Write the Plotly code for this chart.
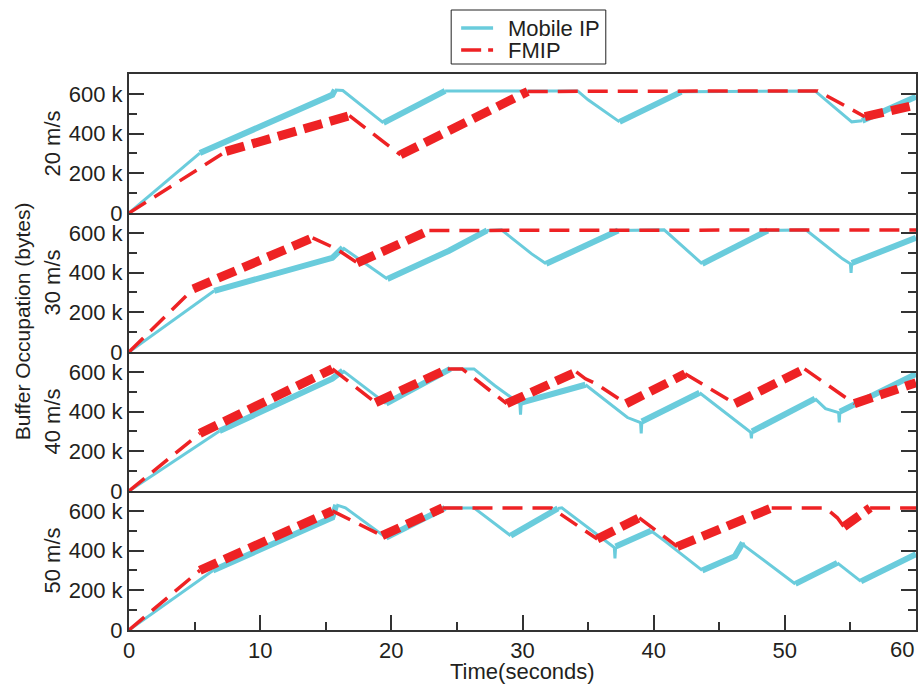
import plotly.graph_objects as go
from plotly.subplots import make_subplots

# ---------------- data (time in s, buffer in kB) ----------------
speeds = ["20 m/s", "30 m/s", "40 m/s", "50 m/s"]
legend_names = ["Mobile IP", "FMIP"]

# 20 m/s
mip20_t = [0, 5.4, 15.5, 15.7, 16.3, 19.4, 24.1, 34.2, 35.0, 37.4, 42.1, 52.3, 55.1, 55.9, 60]
mip20_v = [0, 302, 595, 620, 617, 454, 615, 615, 570, 459, 610, 615, 459, 465, 585]
mip20_n = [0, 1, 1, 0, 0, 1, 0, 0, 0, 1, 0, 0, 0, 1]
fm20_t = [0, 7.4, 16.8, 20.7, 30.4, 52.5, 56.1, 60]
fm20_v = [0, 310, 490, 293, 612, 615, 485, 545]
fm20_n = [0, 1, 0, 1, 0, 0, 1]

# 30 m/s
mip30_t = [0, 6.5, 15.5, 16.3, 19.7, 24.4, 27.3, 28.4, 30.7, 31.8, 37.3, 40.8, 43.7, 48.7, 51.6, 54.4, 55.0, 55.05, 55.1, 60]
mip30_v = [0, 308, 474, 525, 368, 510, 612, 615, 494, 444, 612, 615, 444, 612, 615, 469, 444, 398, 448, 575]
mip30_n = [0, 1, 1, 0, 1, 1, 0, 0, 0, 1, 0, 0, 1, 0, 0, 0, 0, 0, 1]
fm30_t = [0, 4.9, 14.0, 15.8, 17.4, 22.9, 60]
fm30_v = [0, 318, 575, 520, 449, 612, 615]
fm30_n = [0, 1, 0, 0, 1, 0]

# 40 m/s
mip40_t = [0, 6.9, 15.5, 16.3, 19.6, 24.5, 26.3, 27.9, 29.8, 29.85, 29.9, 34.8, 38.0, 39.0, 39.05, 39.1,
           43.5, 47.4, 47.45, 47.5, 52.3, 53.1, 54.1, 54.15, 54.2, 60]
mip40_v = [0, 302, 566, 606, 440, 615, 615, 530, 440, 385, 445, 535, 370, 345, 290, 350,
           495, 295, 265, 300, 465, 415, 395, 345, 400, 590]
mip40_n = [0, 1, 1, 0, 1, 0, 0, 0, 0, 0, 1, 0, 0, 0, 0, 1, 0, 0, 0, 1, 0, 0, 0, 0, 1]
fm40_t = [0, 5.4, 15.5, 18.8, 24.3, 25.4, 28.8, 34.1, 34.8, 35.6, 37.9, 42.4, 46.2, 51.5, 55.3, 60]
fm40_v = [0, 290, 615, 445, 615, 615, 440, 600, 565, 540, 440, 590, 440, 615, 440, 545]
fm40_n = [0, 1, 0, 1, 0, 0, 1, 0, 0, 0, 1, 0, 1, 0, 1]

# 50 m/s
mip50_t = [0, 6.4, 15.5, 15.8, 16.5, 19.6, 24.1, 26.3, 29.1, 32.7, 33.0, 37.0, 37.05, 37.1, 39.8, 40.8,
           43.7, 46.2, 46.8, 46.9, 50.8, 54.0, 55.8, 60]
mip50_v = [0, 300, 566, 630, 615, 465, 615, 615, 475, 612, 615, 415, 360, 420, 500, 450,
           300, 372, 440, 425, 232, 338, 245, 382]
mip50_n = [0, 1, 1, 0, 0, 1, 0, 0, 1, 0, 0, 0, 0, 1, 0, 0, 1, 1, 0, 0, 1, 0, 1]
fm50_t = [0, 5.4, 15.5, 19.3, 23.9, 32.2, 35.7, 38.9, 41.8, 49.0, 53.1, 54.0, 54.5, 56.5, 60]
fm50_v = [0, 300, 600, 475, 615, 615, 458, 565, 420, 615, 615, 565, 520, 615, 615]
fm50_n = [0, 1, 0, 1, 0, 0, 1, 0, 1, 0, 0, 0, 1, 0]

mip_series = [(mip20_t, mip20_v, mip20_n), (mip30_t, mip30_v, mip30_n),
              (mip40_t, mip40_v, mip40_n), (mip50_t, mip50_v, mip50_n)]
fm_series = [(fm20_t, fm20_v, fm20_n), (fm30_t, fm30_v, fm30_n),
             (fm40_t, fm40_v, fm40_n), (fm50_t, fm50_v, fm50_n)]

x_ticks = [0, 10, 20, 30, 40, 50, 60]
x_minor = [5, 15, 25, 35, 45, 55]
y_ticks = [0, 200000, 400000, 600000]
y_ticktext = ["0", "200 k", "400 k", "600 k"]
y_minor = [100000, 300000, 500000]

CYAN = "#6accdc"
RED = "#ee2224"
AX = "#333333"
FONT = "Liberation Sans, Arial, sans-serif"
TXT = "#231f20"

# plot area in pixels (for paper-coordinate conversion of annotations)
PL, PR, PT, PB = 129, 918, 74, 630


def px_x(p):
    return (p - PL) / (PR - PL)


def px_y(p):
    return (PB - p) / (PB - PT)


def pick(t, v, flags, want):
    xs, ys = [], []
    last = None
    for i, f in enumerate(flags):
        if f != want:
            continue
        if last != i:
            if xs:
                xs.append(None)
                ys.append(None)
            xs.append(t[i])
            ys.append(v[i] * 1000)
        xs.append(t[i + 1])
        ys.append(v[i + 1] * 1000)
        last = i + 1
    return xs, ys


fig = make_subplots(rows=4, cols=1, shared_xaxes=True, vertical_spacing=0)

for r in range(4):
    t, v, n = mip_series[r]
    x0, y0 = pick(t, v, n, 0)
    x1, y1 = pick(t, v, n, 1)
    fig.add_trace(go.Scatter(x=x0, y=y0, mode="lines", name="Mobile IP", legendgroup="mip",
                             showlegend=False, line=dict(color=CYAN, width=3)), row=r + 1, col=1)
    fig.add_trace(go.Scatter(x=x1, y=y1, mode="lines", name="Mobile IP", legendgroup="mip",
                             showlegend=False, line=dict(color=CYAN, width=6)), row=r + 1, col=1)
for r in range(4):
    t, v, n = fm_series[r]
    x0, y0 = pick(t, v, n, 0)
    x1, y1 = pick(t, v, n, 1)
    fig.add_trace(go.Scatter(x=x0, y=y0, mode="lines", name="FMIP", legendgroup="fm",
                             showlegend=False, line=dict(color=RED, width=3.5, dash="20px,10px")),
                  row=r + 1, col=1)
    fig.add_trace(go.Scatter(x=x1, y=y1, mode="lines", name="FMIP", legendgroup="fm",
                             showlegend=False, line=dict(color=RED, width=9, dash="19px,8px")),
                  row=r + 1, col=1)

for r in range(4):
    last = r == 3
    fig.update_xaxes(range=[0, 60], showline=True, linecolor=AX,
                     linewidth=2 if last else 1.5,
                     mirror=(r == 0),
                     showgrid=False, zeroline=False,
                     tickvals=x_ticks if last else [],
                     ticktext=[str(v) if v != 60 else "" for v in x_ticks] if last else [],
                     ticks="inside" if last else "", ticklen=15, tickwidth=1.5, tickcolor=AX,
                     minor=dict(tickvals=x_minor if last else [], ticks="inside" if last else "",
                                ticklen=8, tickwidth=1.5, tickcolor=AX),
                     tickfont=dict(family=FONT, size=22, color=TXT),
                     showticklabels=last, row=r + 1, col=1)
    fig.update_yaxes(range=[0, 700000], showline=True, linecolor=AX, linewidth=2, mirror="ticks",
                     showgrid=False, zeroline=False,
                     tickvals=y_ticks, ticktext=y_ticktext,
                     ticks="inside", ticklen=15, tickwidth=1.5, tickcolor=AX,
                     minor=dict(tickvals=y_minor, ticks="inside", ticklen=8, tickwidth=1.5, tickcolor=AX),
                     tickfont=dict(family=FONT, size=22, color=TXT),
                     title=dict(text=speeds[r], font=dict(family=FONT, size=22, color=TXT), standoff=2),
                     row=r + 1, col=1)

fig.add_annotation(text="Buffer Occupation (bytes)", xref="paper", yref="paper",
                   x=px_x(22), y=px_y(321), textangle=-90, showarrow=False,
                   xanchor="center", yanchor="middle",
                   font=dict(family=FONT, size=21, color=TXT))
fig.add_annotation(text="Time(seconds)", xref="paper", yref="paper",
                   x=0.5, y=px_y(671), showarrow=False, xanchor="center", yanchor="middle",
                   font=dict(family=FONT, size=22, color=TXT))
fig.add_annotation(text="60", xref="paper", yref="paper",
                   x=1.0, y=px_y(649), showarrow=False, xanchor="right", yanchor="middle",
                   font=dict(family=FONT, size=22, color=TXT))

# legend box (drawn to match the reference's compact legend)
fig.add_shape(type="rect", xref="paper", yref="paper",
              x0=px_x(452), x1=px_x(607), y0=px_y(64), y1=px_y(10),
              line=dict(color="#222222", width=1), fillcolor="white", layer="above")
legend_colors = [CYAN, RED]
legend_dash = ["solid", "20px,7px"]
legend_rows = [28, 50]
for name, col, dsh, row in zip(legend_names, legend_colors, legend_dash, legend_rows):
    fig.add_shape(type="line", xref="paper", yref="paper",
                  x0=px_x(462), x1=px_x(494), y0=px_y(row), y1=px_y(row),
                  line=dict(color=col, width=3.5, dash=dsh), layer="above")
    fig.add_annotation(text=name, xref="paper", yref="paper", x=px_x(507), y=px_y(row),
                       showarrow=False, xanchor="left", yanchor="middle",
                       font=dict(family=FONT, size=22, color=TXT))

fig.update_layout(
    width=924, height=685,
    margin=dict(l=PL, r=924 - PR, t=PT, b=685 - PB),
    plot_bgcolor="white", paper_bgcolor="white",
    font=dict(family=FONT, size=22, color=TXT),
    showlegend=False,
)

fig.write_html("out.html")
